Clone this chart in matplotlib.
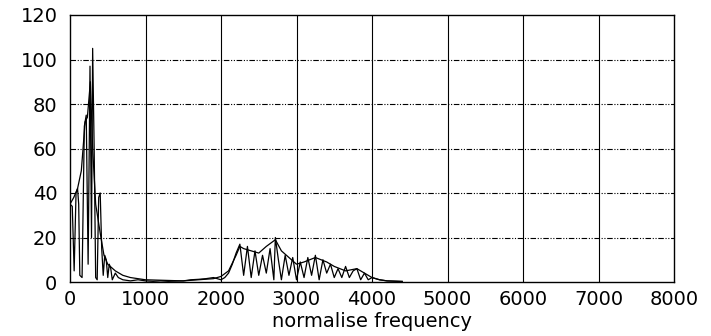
import matplotlib
matplotlib.use("Agg")
import matplotlib.pyplot as plt

# oscillating spectrum
spec_f = [0, 30, 55, 80, 100, 115, 130, 160, 190, 215, 240, 265, 285, 300, 320,
          340, 360, 380, 400, 420, 440, 460, 480, 500, 520, 540, 560, 600, 640,
          700, 800, 900, 1000, 1100, 1200, 1300, 1400, 1500, 1600, 1700, 1800,
          1900, 2000, 2050, 2100, 2150, 2200, 2250, 2300, 2350, 2400, 2450, 2500,
          2550, 2600, 2650, 2700, 2720, 2760, 2800, 2850, 2900, 2950, 3000, 3050,
          3100, 3150, 3200, 3250, 3300, 3350, 3400, 3450, 3500, 3550, 3600, 3650,
          3700, 3750, 3800, 3850, 3900, 3950, 4000, 4100, 4200, 4400]
spec_v = [35, 34, 5, 40, 42, 35, 3, 2, 70, 75, 8, 97, 20, 105, 60,
          2, 1, 38, 40, 15, 3, 12, 10, 2, 8, 6, 1, 4, 2,
          1, 0.5, 1, 0.5, 0.3, 0.5, 0.3, 0.4, 0.5, 1, 1.2, 1.5,
          2, 1, 2, 4, 8, 13, 17, 3, 16, 2, 14, 3,
          12, 4, 15, 1, 20, 10, 1, 12, 3, 11, 1, 9,
          2, 11, 3, 12, 1, 10, 4, 8, 2, 6, 2, 7,
          2, 5, 6, 1, 4, 1, 2, 1, 0.5, 0.3]

# smoother envelope
env_f = [0, 50, 100, 150, 200, 230, 270, 300, 340, 400, 450, 500, 600, 700,
         800, 1000, 1200, 1500, 1700, 1900, 2000, 2100, 2200, 2250, 2300, 2400,
         2500, 2600, 2720, 2800, 2900, 3000, 3100, 3250, 3400, 3500, 3650, 3800,
         3900, 4000, 4100, 4200, 4400]
env_v = [35, 38, 42, 50, 72, 74, 90, 60, 35, 22, 12, 8, 5, 3,
         2, 1, 0.8, 0.5, 1, 1.5, 2.5, 5, 12, 16, 15, 14,
         13, 16, 19, 14, 11, 8, 9, 11, 9, 7, 5, 6,
         4, 2, 1, 0.5, 0.2]

plt.rcParams['font.family'] = ['DejaVu Sans']

fig = plt.figure(figsize=(7.11, 3.36), dpi=100)
ax = fig.add_axes([70 / 711, 54 / 336, 604 / 711, 267 / 336])

ax.plot(spec_f, spec_v, color='black', lw=0.9)
ax.plot(env_f, env_v, color='black', lw=0.9)

ax.set_xlim(0, 8000)
ax.set_ylim(0, 120)
ax.set_xticks(range(0, 8001, 1000))
ax.set_yticks(range(0, 121, 20))

for x in range(1000, 8000, 1000):
    ax.axvline(x, color='black', lw=0.8, zorder=0)
for y in range(20, 120, 20):
    ax.axhline(y, color='black', lw=0.8, dashes=(5, 1.5, 1, 1.5, 1, 1.5), zorder=0)

ax.tick_params(axis='x', length=0, labelsize=14, pad=6)
ax.tick_params(axis='y', length=0, labelsize=14, pad=9)
for s in ax.spines.values():
    s.set_linewidth(1.0)
ax.set_xlabel('normalise frequency', fontsize=14, labelpad=2)

fig.savefig('out.png', dpi=100)
